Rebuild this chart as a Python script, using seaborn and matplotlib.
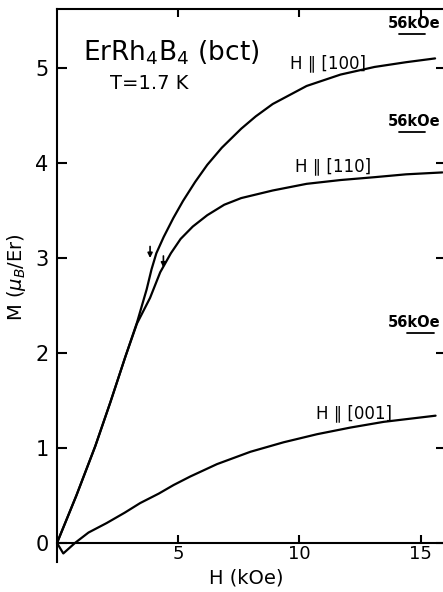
import matplotlib
matplotlib.use("Agg")
import matplotlib.pyplot as plt
import numpy as np
import pandas as pd
import seaborn as sns

# ---------- data ----------
# H || [100]
h_100 = [0, 0.8, 1.58, 2.2, 2.82, 3.3, 3.7, 3.9, 4.1, 4.4, 4.8, 5.2, 5.7, 6.2,
         6.8, 7.6, 8.2, 8.9, 10.3, 11.7, 13.1, 14.4, 15.6]
m_100 = [0, 0.5, 1.02, 1.48, 1.96, 2.32, 2.67, 2.88, 3.05, 3.22, 3.42, 3.60,
         3.80, 3.98, 4.16, 4.36, 4.49, 4.62, 4.81, 4.93, 5.01, 5.06, 5.10]
# H || [110]
h_110 = [0, 0.8, 1.58, 2.2, 2.82, 3.3, 3.84, 4.26, 4.7, 5.1, 5.6, 6.2, 6.9,
         7.6, 8.9, 10.3, 11.7, 13.1, 14.4, 15.9]
m_110 = [0, 0.5, 1.02, 1.48, 1.96, 2.31, 2.58, 2.85, 3.05, 3.2, 3.33, 3.45,
         3.56, 3.63, 3.71, 3.78, 3.82, 3.85, 3.88, 3.90]
# H || [001]
h_001 = [0, 0.26, 0.74, 1.3, 2.05, 2.8, 3.43, 4.2, 4.81, 5.5, 6.6, 7.98, 9.35,
         10.73, 12.11, 13.48, 15.62]
m_001 = [0, -0.11, 0, 0.11, 0.21, 0.32, 0.42, 0.52, 0.61, 0.70, 0.83, 0.96,
         1.06, 1.145, 1.215, 1.275, 1.34]

curve_labels = ["H \u2225 [100]", "H \u2225 [110]", "H \u2225 [001]"]
# magnetisation reached at 56 kOe (marked on the right)
m_56 = [5.36, 4.33, 2.21]
# transition arrows (field, moment at arrow tip)
arrow_h = [3.84, 4.39]
arrow_m = [2.97, 2.87]

x_ticks = [5, 10, 15]
y_ticks = [0, 1, 2, 3, 4, 5]

sns.set_style("ticks")
plt.rcParams["font.family"] = ["DejaVu Sans"]
plt.rcParams.update({"text.color": "black", "axes.labelcolor": "black",
                     "xtick.color": "black", "ytick.color": "black",
                     "axes.edgecolor": "black"})

fig = plt.figure(figsize=(4.43, 5.92), dpi=100)
ax = fig.add_axes([57 / 443, 1 - 562 / 592, 389 / 443, 553 / 592])

curves = pd.concat([
    pd.DataFrame({"H": h_100, "M": m_100, "dir": "100"}),
    pd.DataFrame({"H": h_110, "M": m_110, "dir": "110"}),
    pd.DataFrame({"H": h_001, "M": m_001, "dir": "001"}),
])
for d, sub in curves.groupby("dir", sort=False):
    sns.lineplot(data=sub, x="H", y="M", sort=False, estimator=None,
                 color="black", lw=1.6, ax=ax)

ax.set_xlim(0, 16.05)
ax.set_ylim(-0.2, 5.62)
ax.spines["bottom"].set_position(("data", 0))
for s in ax.spines.values():
    s.set_linewidth(1.5)

ax.set_xticks(x_ticks)
ax.set_xticklabels([str(t) for t in x_ticks], fontsize=13)
ax.set_yticks(y_ticks)
ax.set_yticklabels([str(t) for t in y_ticks], fontsize=15)
ax.tick_params(axis="x", direction="in", length=6, width=1.5, top=True, pad=1.5)
ax.tick_params(axis="y", direction="in", length=7, width=1.5, right=True, pad=6)

ax.set_xlabel("H (kOe)", fontsize=14)
ax.xaxis.set_label_coords(0.486, -0.012)
ax.set_ylabel(r"M ($\mu_B$/Er)", fontsize=14)
ax.yaxis.set_label_coords(-0.075, 0.515)

# annotations
ax.text(1.07, 5.16, r"ErRh$_4$B$_4$ (bct)", fontsize=19, va="center", ha="left")
ax.text(2.19, 4.84, "T=1.7 K", fontsize=14, va="center", ha="left")
ax.text(9.63, 5.05, curve_labels[0], fontsize=12, va="center", ha="left")
ax.text(9.83, 3.97, curve_labels[1], fontsize=12, va="center", ha="left")
ax.text(10.7, 1.37, curve_labels[2], fontsize=12, va="center", ha="left")

for i, m in enumerate(m_56):
    x0 = 14.1 if i < 2 else 14.46
    x1 = 15.2 if i < 2 else 15.54
    ax.text(13.64, m + 0.03, "56kOe", fontsize=10.5, fontweight="bold",
            va="bottom", ha="left")
    ax.plot([x0, x1], [m, m], color="black", lw=1.3)

for h, m in zip(arrow_h, arrow_m):
    ax.annotate("", xy=(h, m), xytext=(h, m + 0.18),
                arrowprops=dict(arrowstyle="-|>", color="black", lw=1.2,
                                mutation_scale=7))

fig.savefig("out.png", dpi=100)
